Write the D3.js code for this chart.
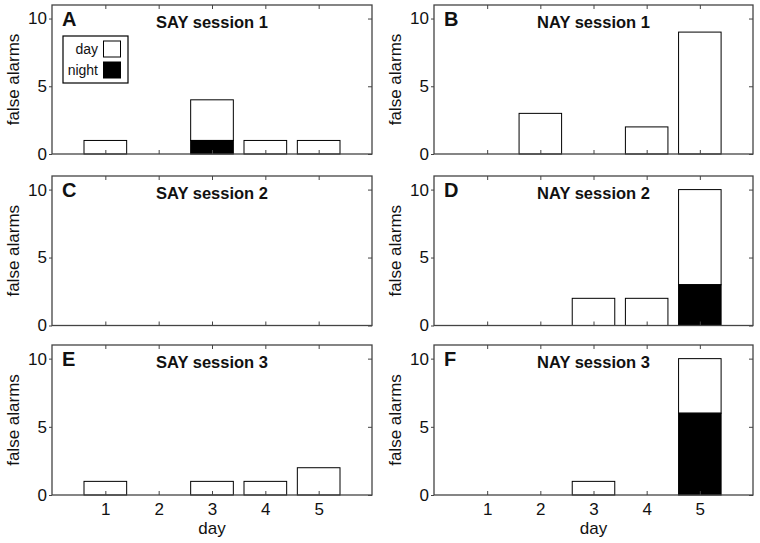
<!DOCTYPE html>
<html>
<head>
<meta charset="utf-8">
<script src="https://cdn.jsdelivr.net/npm/d3@7"></script>
<style>
  html, body { margin: 0; padding: 0; background: #fff; }
  svg { display: block; font-family: "Liberation Sans", Arial, sans-serif; }
</style>
</head>
<body>
<svg id="chart" width="760" height="543"></svg>
<script>
// ---- data ----
const days = [1, 2, 3, 4, 5];
const yTicks = [0, 5, 10];
const panelLetters = ["A", "B", "C", "D", "E", "F"];
const panelTitles = ["SAY session 1", "NAY session 1", "SAY session 2", "NAY session 2", "SAY session 3", "NAY session 3"];
// day-time false alarms (white portion) and night-time false alarms (black portion)
const say1Day   = [1, 0, 3, 1, 1];
const say1Night = [0, 0, 1, 0, 0];
const nay1Day   = [0, 3, 0, 2, 9];
const nay1Night = [0, 0, 0, 0, 0];
const say2Day   = [0, 0, 0, 0, 0];
const say2Night = [0, 0, 0, 0, 0];
const nay2Day   = [0, 0, 2, 2, 7];
const nay2Night = [0, 0, 0, 0, 3];
const say3Day   = [1, 0, 1, 1, 2];
const say3Night = [0, 0, 0, 0, 0];
const nay3Day   = [0, 0, 1, 0, 4];
const nay3Night = [0, 0, 0, 0, 6];
const legendLabels = ["day", "night"];

const dayData = [say1Day, nay1Day, say2Day, nay2Day, say3Day, nay3Day];
const nightData = [say1Night, nay1Night, say2Night, nay2Night, say3Night, nay3Night];

// ---- layout ----
const svg = d3.select("#chart");
const colX = [[52, 372], [434, 753]];
const rowY = [[5, 154], [176, 325.5], [345, 495]];
const frameColor = "#444";
const textColor = "#111";
const barWidth = 0.8;
const fontFamily = "Liberation Sans, Arial, sans-serif";

panelTitles.forEach((title, i) => {
  const col = i % 2, row = Math.floor(i / 2);
  const [x0, x1] = colX[col];
  const [y0, y1] = rowY[row];
  const x = d3.scaleLinear().domain([0, 6]).range([x0, x1]);
  const y = d3.scaleLinear().domain([0, 11]).range([y1, y0]);
  const g = svg.append("g");

  // bars
  const bars = days.map((d, k) => ({ day: d, dayV: dayData[i][k], night: nightData[i][k] }));
  bars.forEach(b => {
    const total = b.dayV + b.night;
    if (total <= 0) return;
    const bx = x(b.day - barWidth / 2), bw = x(b.day + barWidth / 2) - x(b.day - barWidth / 2);
    if (b.dayV > 0) {
      g.append("rect")
        .attr("x", bx).attr("width", bw)
        .attr("y", y(total)).attr("height", y(b.night) - y(total))
        .attr("fill", "#fff").attr("stroke", "#000").attr("stroke-width", 1);
    }
    if (b.night > 0) {
      g.append("rect")
        .attr("x", bx).attr("width", bw)
        .attr("y", y(b.night)).attr("height", y(0) - y(b.night))
        .attr("fill", "#000").attr("stroke", "#000").attr("stroke-width", 1);
    }
  });

  // frame
  g.append("rect")
    .attr("x", x0).attr("y", y0).attr("width", x1 - x0).attr("height", y1 - y0)
    .attr("fill", "none").attr("stroke", frameColor).attr("stroke-width", 1.3);

  // bottom axis (inward ticks)
  const bottom = g.append("g").attr("transform", `translate(0,${y1})`)
    .call(d3.axisBottom(x).tickValues(days).tickSize(-4).tickPadding(row === 2 ? 8 : 0)
      .tickFormat(row === 2 ? d3.format("d") : () => ""));
  bottom.select(".domain").remove();
  bottom.selectAll("line").attr("stroke", frameColor);
  bottom.selectAll("text").attr("font-size", 17).attr("fill", textColor)
    .attr("font-family", fontFamily);

  // top axis ticks (inward)
  const top = g.append("g").attr("transform", `translate(0,${y0})`)
    .call(d3.axisTop(x).tickValues(days).tickSize(-4).tickFormat(() => ""));
  top.select(".domain").remove();
  top.selectAll("line").attr("stroke", frameColor);

  // left axis
  const left = g.append("g").attr("transform", `translate(${x0},0)`)
    .call(d3.axisLeft(y).tickValues(yTicks).tickSize(3).tickPadding(2).tickFormat(d3.format("d")));
  left.select(".domain").remove();
  left.selectAll("line").attr("stroke", frameColor);
  left.selectAll("text").attr("font-size", 17).attr("fill", textColor)
    .attr("font-family", fontFamily);

  // right ticks (inward)
  const right = g.append("g").attr("transform", `translate(${x1},0)`)
    .call(d3.axisRight(y).tickValues(yTicks).tickSize(-4).tickFormat(() => ""));
  right.select(".domain").remove();
  right.selectAll("line").attr("stroke", frameColor);

  // y label
  g.append("text")
    .attr("transform", `translate(${x0 - 33},${(y0 + y1) / 2}) rotate(-90)`)
    .attr("text-anchor", "middle").attr("font-size", 17).attr("fill", textColor)
    .text("false alarms");

  // panel letter
  g.append("text")
    .attr("x", x0 + 10).attr("y", y0 + 21)
    .attr("font-size", 20).attr("font-weight", "bold").attr("fill", textColor)
    .text(panelLetters[i]);

  // title
  g.append("text")
    .attr("x", x(3)).attr("y", y0 + 23)
    .attr("text-anchor", "middle").attr("font-size", 16.5).attr("font-weight", "bold").attr("fill", textColor)
    .text(title);

  // x label
  if (row === 2) {
    g.append("text")
      .attr("x", x(3)).attr("y", y1 + 39)
      .attr("text-anchor", "middle").attr("font-size", 17).attr("fill", textColor)
      .text("day");
  }

  // legend in panel A
  if (i === 0) {
    const lg = g.append("g");
    lg.append("rect").attr("x", 63).attr("y", 36).attr("width", 65).attr("height", 47)
      .attr("fill", "#fff").attr("stroke", "#000").attr("stroke-width", 1.2);
    const fills = ["#fff", "#000"];
    legendLabels.forEach((lab, j) => {
      const cy = 49 + j * 21;
      lg.append("rect").attr("x", 103.5).attr("y", cy - 8).attr("width", 17).attr("height", 16)
        .attr("fill", fills[j]).attr("stroke", "#000").attr("stroke-width", 1);
      lg.append("text").attr("x", 98).attr("y", cy + 5)
        .attr("text-anchor", "end").attr("font-size", 14).attr("fill", textColor)
        .text(lab);
    });
  }
});
</script>
</body>
</html>
